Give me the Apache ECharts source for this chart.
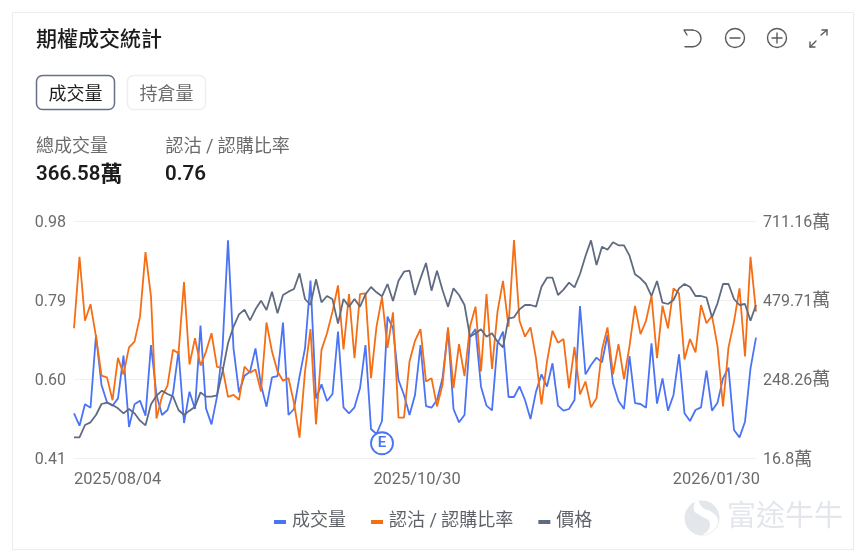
<!DOCTYPE html>
<html><head><meta charset="utf-8">
<style>html,body{margin:0;padding:0;background:#fff}#c{width:862px;height:555px}</style>
<script src="https://cdn.jsdelivr.net/npm/echarts@6/dist/echarts.min.js"></script>
</head><body><div id="c"></div>
<script>
const categories = [
'2025/08/04','2025/08/05','2025/08/06','2025/08/07','2025/08/08','2025/08/11','2025/08/12','2025/08/13','2025/08/14','2025/08/15','2025/08/18','2025/08/19','2025/08/20','2025/08/21','2025/08/22','2025/08/25','2025/08/26','2025/08/27','2025/08/28','2025/08/29',
'2025/09/02','2025/09/03','2025/09/04','2025/09/05','2025/09/08','2025/09/09','2025/09/10','2025/09/11','2025/09/12','2025/09/15','2025/09/16','2025/09/17','2025/09/18','2025/09/19','2025/09/22','2025/09/23','2025/09/24','2025/09/25','2025/09/26','2025/09/29','2025/09/30',
'2025/10/01','2025/10/02','2025/10/03','2025/10/06','2025/10/07','2025/10/08','2025/10/09','2025/10/10','2025/10/13','2025/10/14','2025/10/15','2025/10/16','2025/10/17','2025/10/20','2025/10/21','2025/10/22','2025/10/23','2025/10/24','2025/10/27','2025/10/28','2025/10/29','2025/10/30','2025/10/31',
'2025/11/03','2025/11/04','2025/11/05','2025/11/06','2025/11/07','2025/11/10','2025/11/11','2025/11/12','2025/11/13','2025/11/14','2025/11/17','2025/11/18','2025/11/19','2025/11/20','2025/11/21','2025/11/24','2025/11/25','2025/11/26','2025/11/28',
'2025/12/01','2025/12/02','2025/12/03','2025/12/04','2025/12/05','2025/12/08','2025/12/09','2025/12/10','2025/12/11','2025/12/12','2025/12/15','2025/12/16','2025/12/17','2025/12/18','2025/12/19','2025/12/22','2025/12/23','2025/12/24','2025/12/26','2025/12/29','2025/12/30','2025/12/31',
'2026/01/02','2026/01/05','2026/01/06','2026/01/07','2026/01/08','2026/01/09','2026/01/12','2026/01/13','2026/01/14','2026/01/15','2026/01/16','2026/01/20','2026/01/21','2026/01/22','2026/01/23','2026/01/26','2026/01/27','2026/01/28','2026/01/29','2026/01/30'];

const volume = [147.7,111.5,174,164.3,377.2,230.7,179.9,170.1,191.6,316.6,107.6,174,184.8,140.8,347.9,201.4,142.8,157.4,206.3,330.3,119.3,211.1,160.4,404.5,162.3,115.4,196.5,338.1,654.5,338.1,209.2,258,269.7,338.1,230.7,167.2,253.1,257,413.3,142.8,160.4,255.1,338.1,536.4,191.6,232.6,183.8,204.3,386.9,165.2,147.7,165.2,220.9,347.9,101.8,87.1,125.2,430.9,396.7,245.3,201.4,142.8,201.4,347.9,169.1,164.3,186.7,250.2,391.8,160.4,121.3,142.8,372.3,394.7,225.8,170.1,156.5,352.8,386.9,195.5,195.5,226.8,186.7,131.1,211.1,261.9,225.8,294.2,170.1,155.5,160.4,186.7,462.1,261.9,289.3,310.8,297.1,377.2,235.6,183.8,160.4,315.6,177.9,175,164.3,352.8,176,250.2,155.5,201.4,320.5,147.7,125.2,157.4,165.2,272.7,155.5,178.9,250.2,281.5,98.8,77.3,123.2,279.5,369.4];

const putCallRatio = [.722,.894,.740,.780,.702,.608,.604,.549,.651,.611,.676,.690,.750,.905,.798,.505,.558,.584,.670,.662,.833,.635,.698,.632,.666,.710,.629,.627,.557,.562,.550,.630,.615,.623,.570,.736,.666,.618,.596,.602,.542,.459,.618,.720,.491,.670,.710,.762,.825,.671,.804,.650,.804,.806,.602,.726,.797,.675,.760,.507,.507,.642,.692,.720,.594,.602,.534,.586,.724,.578,.684,.607,.726,.774,.618,.804,.624,.762,.836,.726,.934,.740,.702,.724,.650,.539,.642,.716,.687,.696,.578,.677,.563,.594,.532,.554,.671,.724,.611,.684,.600,.679,.776,.708,.740,.800,.650,.776,.722,.818,.806,.647,.696,.664,.778,.734,.752,.679,.534,.676,.738,.818,.654,.894,.762];

const price = [6.2,6.2,9.9,10.7,12.9,16.2,16.6,15.9,14.9,13.4,14.7,13.4,11.2,9.8,16.1,18.7,20.2,19.2,18.5,14.4,12.9,14.2,15.4,19.7,18.4,18.4,18.8,25.9,34.4,39.4,43.1,44.5,41.3,44.6,47.2,44.4,49.9,43.4,48.9,49.9,50.7,55.4,47.7,45.9,53.6,46.7,48.6,47.6,40.3,47.7,45.4,47.7,45.4,49.1,51.3,49.7,48.5,52.2,47.1,53.2,55.9,56.2,48.9,53.9,58.5,50.2,56.2,50.4,45.4,50.9,48.9,45.9,36.4,37.4,38.6,36.4,37.4,34.9,33.2,41.9,42.2,44.6,45.9,45.9,45.4,51.4,54.1,54.1,48.9,50.5,52.6,51.2,55.2,60.6,65.3,57.9,63.4,62.5,64.7,63.8,63.8,60.7,55.1,53.9,52.2,48.6,53.1,46.6,46.2,47.4,50.9,52.2,51.3,48.6,48.6,48.1,42.2,46.4,52.2,52.2,47.7,45.9,46.2,41.2,45.9];

const ratioTicks = [0.41,0.60,0.79,0.98];
const ratioLabels = ['0.41','0.60','0.79','0.98'];
const volumeTicks = [16.8,248.26,479.71,711.16];
const volumeLabels = ['16.8','248.26','479.71','711.16'];
const volumeUnit = '萬';
const priceRange = [0,71.1];
const xTickIndexes = [0,62,124];
const earningsDate = '2025/10/22';
const earningsMark = 60;
const seriesNames = ['成交量','認沽 / 認購比率','價格'];
const tabs = ['成交量','持倉量'];
const statLabels = ['總成交量','認沽 / 認購比率'];
const statValues = ['366.58','0.76'];

const FF = 'Roboto, "Noto Sans CJK TC", sans-serif';
const BLUE='#4a73f5', ORANGE='#f56e14', GRAY='#5f6b80', TXT='#6b6b6b', ICON='#5a5a5a';
const txt=(x,y,t,size,color,weight,extra)=>({type:'text',x,y,silent:true,z:10,style:Object.assign({text:t,fontSize:size,fontFamily:FF,fill:color,fontWeight:weight||400,verticalAlign:'middle',align:'left'},extra||{})});
const stroke=(w)=>({fill:null,stroke:ICON,lineWidth:w||1.4,lineCap:'round',lineJoin:'round'});
const shape=(type,s,st)=>({type,z:10,silent:true,shape:s,style:st||stroke()});

const graphics=[
 {type:'rect',z:0,silent:true,shape:{x:12.5,y:12.5,width:841,height:537},style:{fill:'#fff',stroke:'#ececec',lineWidth:1}},
 txt(36,41,'期權成交統計',21,'#1c1c1c',500),
 {type:'rect',z:10,silent:true,shape:{x:36.5,y:75.5,width:78,height:34,r:6},style:{fill:'#fff',stroke:'#66708a',lineWidth:1.5}},
 txt(75.5,95,tabs[0],18,'#1c1c1c',400,{align:'center'}),
 {type:'rect',z:10,silent:true,shape:{x:127.5,y:75.5,width:78,height:34,r:6},style:{fill:'#fff',stroke:'#eeeeee',lineWidth:1.5}},
 txt(166.5,95,tabs[1],18,'#6b6b6b',400,{align:'center'}),
 txt(36,147,statLabels[0],18,TXT),
 txt(165.5,147,statLabels[1],18,TXT),
 txt(36,175,'{a|'+statValues[0]+'}{b|萬}',20.5,'#1c1c1c',600,{rich:{a:{fontSize:20.5,fontWeight:600,fontFamily:FF,fill:'#1c1c1c'},b:{fontSize:22,fontWeight:600,fontFamily:FF,fill:'#1c1c1c'}}}),
 txt(165,175,statValues[1],20.5,'#1c1c1c',600),
 // toolbar
 shape('polyline',{points:[[687,35],[684,30],[692.7,30]]}),
 shape('arc',{cx:692.7,cy:38.4,r:8.3,startAngle:-Math.PI/2,endAngle:Math.PI/2}),
 shape('line',{x1:692.7,y1:46.7,x2:685,y2:46.7}),
 shape('circle',{cx:735,cy:38,r:9.5}),
 shape('line',{x1:730,y1:38,x2:740,y2:38}),
 shape('circle',{cx:777,cy:38,r:9.5}),
 shape('line',{x1:772,y1:38,x2:782,y2:38}),
 shape('line',{x1:777,y1:33,x2:777,y2:43}),
 shape('line',{x1:821,y1:35,x2:827,y2:30}),
 shape('polyline',{points:[[822,30],[827,30],[827,35]]}),
 shape('line',{x1:810,y1:47,x2:816,y2:41}),
 shape('polyline',{points:[[810,42],[810,47],[815,47]]}),
 // watermark
 {type:'circle',z:1,silent:true,shape:{cx:702,cy:518,r:17.5},style:{fill:'#e3e7eb'}},
 {type:'polygon',z:2,silent:true,shape:{smooth:0.4,points:[[697,500],[694,510],[701,516],[709,521],[709,529],[703,535],[714,530],[718,520],[712,512],[703,508]]},style:{fill:'#fff'}},
 txt(727,519,'富途牛牛',29,'#e3e7eb',400)
];

const tickSet=new Set(xTickIndexes);
const chart=echarts.init(document.getElementById('c'),null,{renderer:'canvas'});
chart.setOption({
 animation:false,
 textStyle:{fontFamily:FF},
 graphic:graphics,
 grid:{left:74,right:106,top:221,bottom:97,containLabel:false},
 legend:{left:269,top:508,icon:'rect',itemWidth:12,itemHeight:4,itemGap:25,selectedMode:false,
   data:seriesNames,textStyle:{fontFamily:FF,fontSize:18,color:'#5f6368',padding:[0,0,0,1]}},
 xAxis:{type:'category',data:categories,boundaryGap:false,
   axisLine:{show:false},axisTick:{show:false},splitLine:{show:false},
   axisLabel:{interval:(i)=>tickSet.has(i),color:TXT,fontSize:16.4,fontFamily:FF,margin:14,alignMinLabel:'left',alignMaxLabel:'right',hideOverlap:false,padding:[0,-4,0,0]}},
 yAxis:[
  {type:'value',min:ratioTicks[0],max:ratioTicks[3],position:'left',
   axisLine:{show:false},axisTick:{show:false,customValues:ratioTicks},
   splitLine:{show:true,lineStyle:{color:'#f0f0f0',width:1}},
   axisLabel:{customValues:ratioTicks,formatter:(v)=>'{a|'+ratioLabels[ratioTicks.indexOf(v)]+'}',margin:8,padding:[4,0,0,0],
     rich:{a:{color:TXT,fontSize:16,fontFamily:FF}}}},
  {type:'value',min:volumeTicks[0],max:volumeTicks[3],position:'right',
   axisLine:{show:false},axisTick:{show:false,customValues:volumeTicks},splitLine:{show:false},
   axisLabel:{customValues:volumeTicks,formatter:(v)=>'{a|'+volumeLabels[volumeTicks.indexOf(v)]+'}{b|'+volumeUnit+'}',margin:7,padding:[4,0,0,0],
     rich:{a:{color:TXT,fontSize:16,fontFamily:FF},b:{color:TXT,fontSize:18,fontFamily:FF}}}},
  {type:'value',min:priceRange[0],max:priceRange[1],show:false,splitLine:{show:false}}
 ],
 series:[
  {name:seriesNames[0],type:'line',yAxisIndex:1,data:volume,showSymbol:false,symbol:'none',lineStyle:{color:BLUE,width:1.8},itemStyle:{color:BLUE},z:3,
   markPoint:{silent:true,z:8,symbol:'circle',symbolSize:22,
     itemStyle:{color:'#fff',borderColor:BLUE,borderWidth:1.8},
     label:{show:true,formatter:'E',color:BLUE,fontSize:15,fontWeight:600,fontFamily:FF},
     data:[{coord:[earningsDate,earningsMark]}]}},
  {name:seriesNames[1],type:'line',yAxisIndex:0,data:putCallRatio,showSymbol:false,symbol:'none',lineStyle:{color:ORANGE,width:1.8},itemStyle:{color:ORANGE},z:4},
  {name:seriesNames[2],type:'line',yAxisIndex:2,data:price,showSymbol:false,symbol:'none',lineStyle:{color:GRAY,width:1.8},itemStyle:{color:GRAY},z:5}
 ]
});
</script></body></html>
